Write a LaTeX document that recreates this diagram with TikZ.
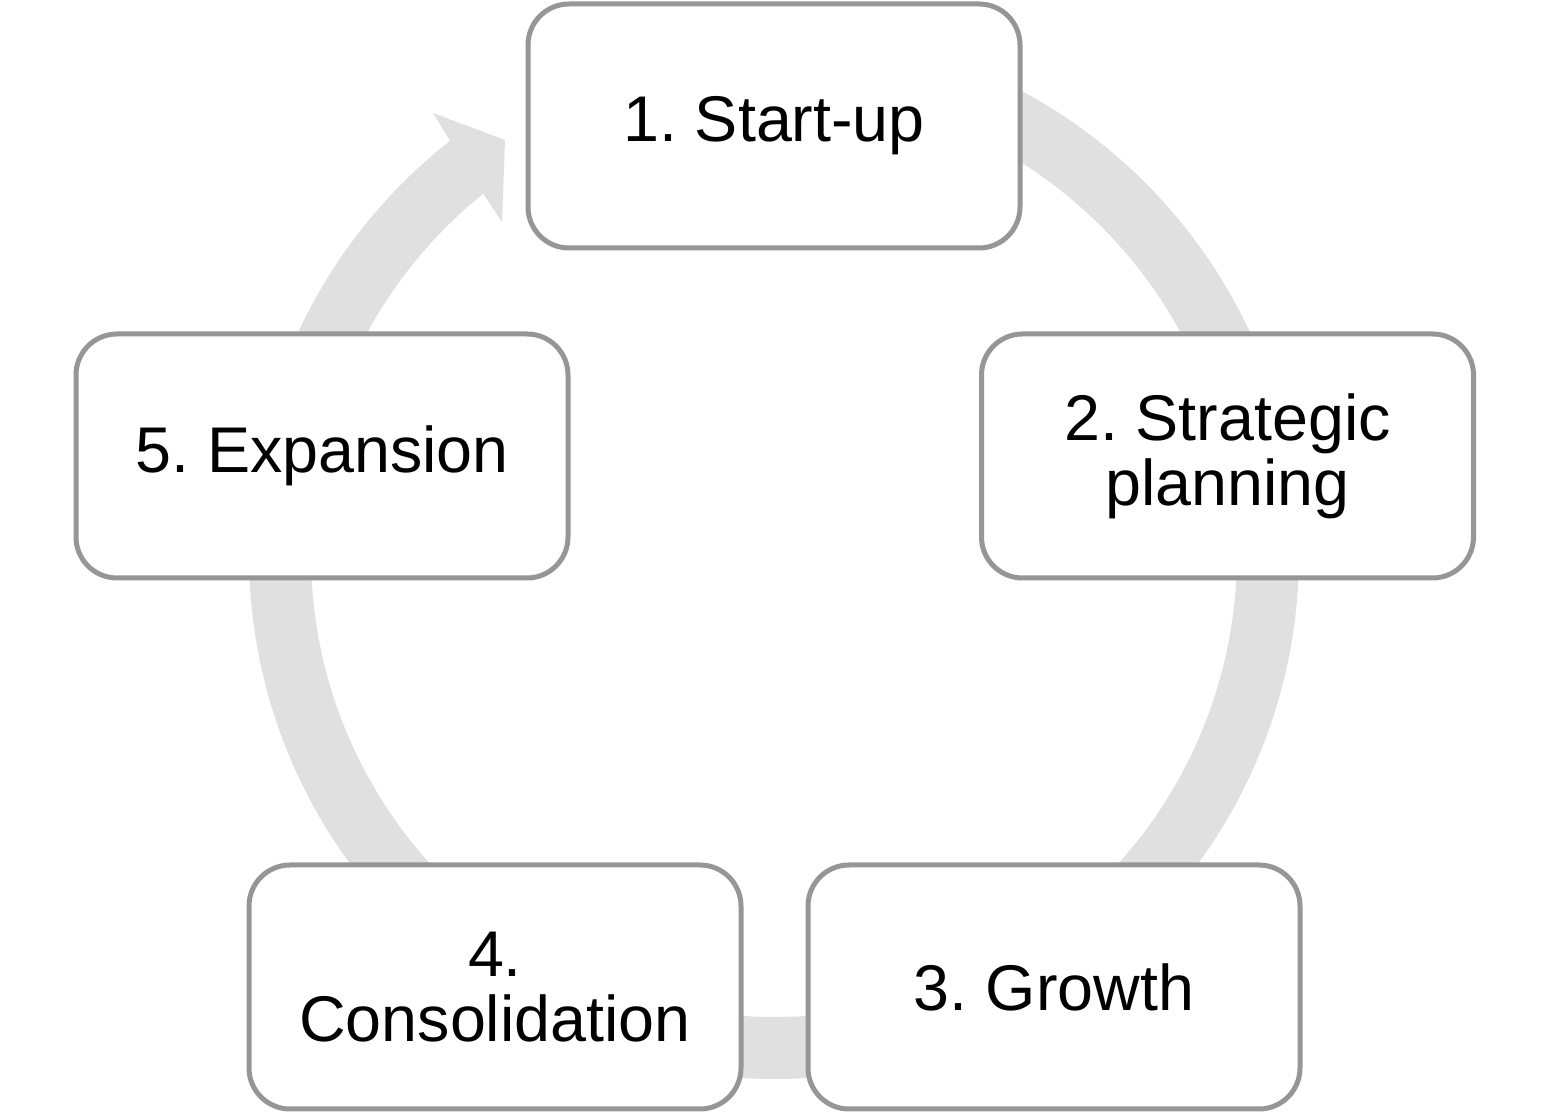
\documentclass[tikz,border=0pt]{standalone}
\usepackage{fontspec}
\setmainfont{Liberation Sans}
\usetikzlibrary{calc}
\definecolor{ringgray}{HTML}{E0E0E0}
\definecolor{boxgray}{HTML}{969696}
\frenchspacing
\begin{document}
\begin{tikzpicture}[x=0.5pt,y=0.5pt,
  stagebox/.style={draw=boxgray, line width=2.5pt, fill=white,
    rounded corners=20.5pt, minimum width=246pt, minimum height=122pt,
    inner sep=0pt, align=center, font=\fontsize{32.3}{32.5}\selectfont}]
\useasboundingbox (0,0) rectangle (1548,1114);
\coordinate (c) at (774,560);
\fill[ringgray] ($(c)+(90:525)$) arc[start angle=90,end angle=-231.9,radius=262.5pt]
  -- (433,1001) -- (505,974) -- (502,892)
  -- ($(c)+(128.9:463)$) arc[start angle=-231.1,end angle=90,radius=231.5pt] -- cycle;
\node[stagebox] (s1) at (774,988) {1. Start-up};
\node[stagebox] (s2) at (1227.5,658) {2. Strategic\\planning};
\node[stagebox] (s3) at (1054,127) {3. Growth};
\node[stagebox] (s4) at (495,127) {4.\\Consolidation};
\node[stagebox] (s5) at (322,658) {5. Expansion};
\end{tikzpicture}
\end{document}
